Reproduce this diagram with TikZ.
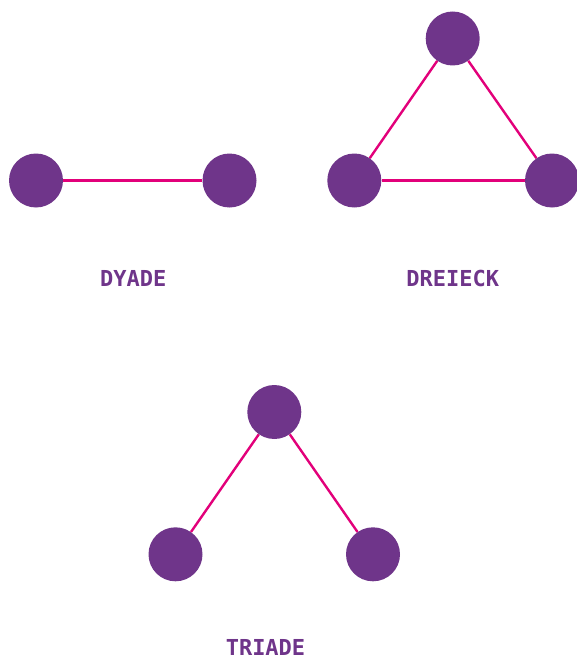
\documentclass[tikz,border=0pt]{standalone}
\usepackage{fontspec}
\newfontfamily\labelfont{DejaVu Sans Mono}
\definecolor{nodepurple}{HTML}{6F358A}
\definecolor{edgemagenta}{HTML}{E2007A}
\begin{document}
\begin{tikzpicture}[x=1pt,y=-1pt,
  dot/.style={circle,fill=nodepurple,minimum size=54pt,inner sep=0pt,draw=none},
  edge/.style={draw=edgemagenta,line width=2.4pt},
  lbl/.style={text=nodepurple,font=\labelfont\bfseries\fontsize{22}{22}\selectfont,anchor=base,inner sep=0pt}]
\useasboundingbox (0,0) rectangle (577,661);
% Dyade
\node[dot] (d1) at (36,180.5) {};
\node[dot] (d2) at (229.5,180.5) {};
\draw[edge] (d1) -- (d2);
\node[lbl] (ldyade) at (133.3,286.5) {DYADE};
% Dreieck
\node[dot] (t1) at (452.7,38.5) {};
\node[dot] (t2) at (354.3,180.5) {};
\node[dot] (t3) at (552,180.5) {};
\draw[edge] (t1) -- (t2);
\draw[edge] (t1) -- (t3);
\draw[edge] (t2) -- (t3);
\node[lbl] (ldreieck) at (452.7,286.7) {DREIECK};
% Triade
\node[dot] (r1) at (274.3,412) {};
\node[dot] (r2) at (175.5,554.3) {};
\node[dot] (r3) at (373,554.3) {};
\draw[edge] (r1) -- (r2);
\draw[edge] (r1) -- (r3);
\node[lbl] (ltriade) at (265.5,655.5) {TRIADE};
\end{tikzpicture}
\end{document}
